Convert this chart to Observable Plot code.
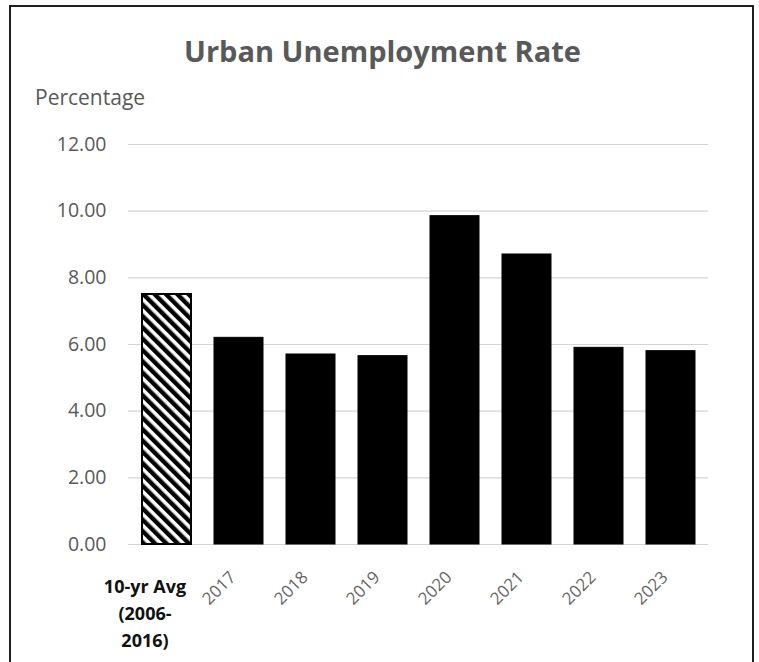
<!DOCTYPE html>
<html>
<head>
<meta charset="utf-8">
<script src="https://cdn.jsdelivr.net/npm/d3@7"></script>
<script src="https://cdn.jsdelivr.net/npm/@observablehq/plot@0.6"></script>
<style>
  html, body { margin: 0; padding: 0; background: #fff; }
  #wrap { position: relative; width: 759px; height: 662px; overflow: hidden; background: #fff; font-family: "Open Sans", sans-serif; }
  #frame { position: absolute; left: 9px; top: 5px; width: 745px; height: 720px; border: 2px solid #1e1e1e; box-sizing: border-box; }
  #title { position: absolute; left: 0; top: 36px; width: 765px; text-align: center; font-size: 29px; line-height: 29px; font-weight: 700; color: #595959; white-space: nowrap; }
  #ylabel { position: absolute; left: 35px; top: 87px; font-size: 21px; line-height: 21px; color: #595959; white-space: nowrap; }
  #chart { position: absolute; left: 0; top: 120px; }
</style>
</head>
<body>
<div id="wrap">
  <div id="frame"></div>
  <div id="title">Urban Unemployment Rate</div>
  <div id="ylabel">Percentage</div>
  <div id="chart"></div>
</div>
<script>
// Data
const categories = ["10-yr Avg (2006-2016)", "2017", "2018", "2019", "2020", "2021", "2022", "2023"];
const values = [7.5, 6.2, 5.7, 5.65, 9.85, 8.7, 5.9, 5.8];
const avgLabel = "10-yr Avg\n(2006-\n2016)";
const yTicks = [0, 2, 4, 6, 8, 10, 12];

const avgCat = categories[0];
const rows = categories.map((c, i) => ({cat: c, value: values[i]}));
const avgRows = rows.filter(d => d.cat === avgCat);
const yearRows = rows.filter(d => d.cat !== avgCat);

const chart = Plot.plot({
  width: 759,
  height: 542,
  marginTop: 24,
  marginBottom: 118,
  marginLeft: 128,
  marginRight: 51,
  style: {fontFamily: "Open Sans, sans-serif", color: "#595959", background: "transparent", overflow: "visible"},
  x: {domain: categories, paddingInner: 0.32, paddingOuter: 0.16, label: null},
  y: {domain: [0, 12], label: null},
  marks: [
    Plot.gridY(yTicks, {stroke: "#d4d4d4", strokeOpacity: 1, strokeWidth: 1.2}),
    Plot.axisY(yTicks, {tickSize: 0, tickPadding: 22, tickFormat: d3.format(".2f"), fontSize: 19.5, label: null}),
    Plot.axisX({tickRotate: -45, tickSize: 0, tickPadding: 30, dx: -6, fontSize: 17, label: null, fill: "#666",
      tickFormat: d => d === avgCat ? "" : d}),
    Plot.barY(yearRows, {x: "cat", y: "value", fill: "black", stroke: "black", strokeWidth: 1}),
    Plot.barY(avgRows, {x: "cat", y: "value", fill: "url(#hatch)", stroke: "black", strokeWidth: 2}),
    Plot.text([avgLabel], {x: () => avgCat, y: () => 0, text: d => d, dy: 29, dx: -22,
      lineAnchor: "top", lineHeight: 1.5, fontSize: 18, fontWeight: "bold", fill: "#111"})
  ]
});

// hatch pattern definition
const ns = "http://www.w3.org/2000/svg";
const defs = document.createElementNS(ns, "defs");
defs.innerHTML = '<pattern id="hatch" patternUnits="userSpaceOnUse" width="8" height="8" patternTransform="rotate(-45)">' +
  '<rect width="8" height="8" fill="white"></rect><rect width="4.4" height="8" fill="black"></rect></pattern>';
chart.insertBefore(defs, chart.firstChild);

document.getElementById("chart").appendChild(chart);
</script>
</body>
</html>
